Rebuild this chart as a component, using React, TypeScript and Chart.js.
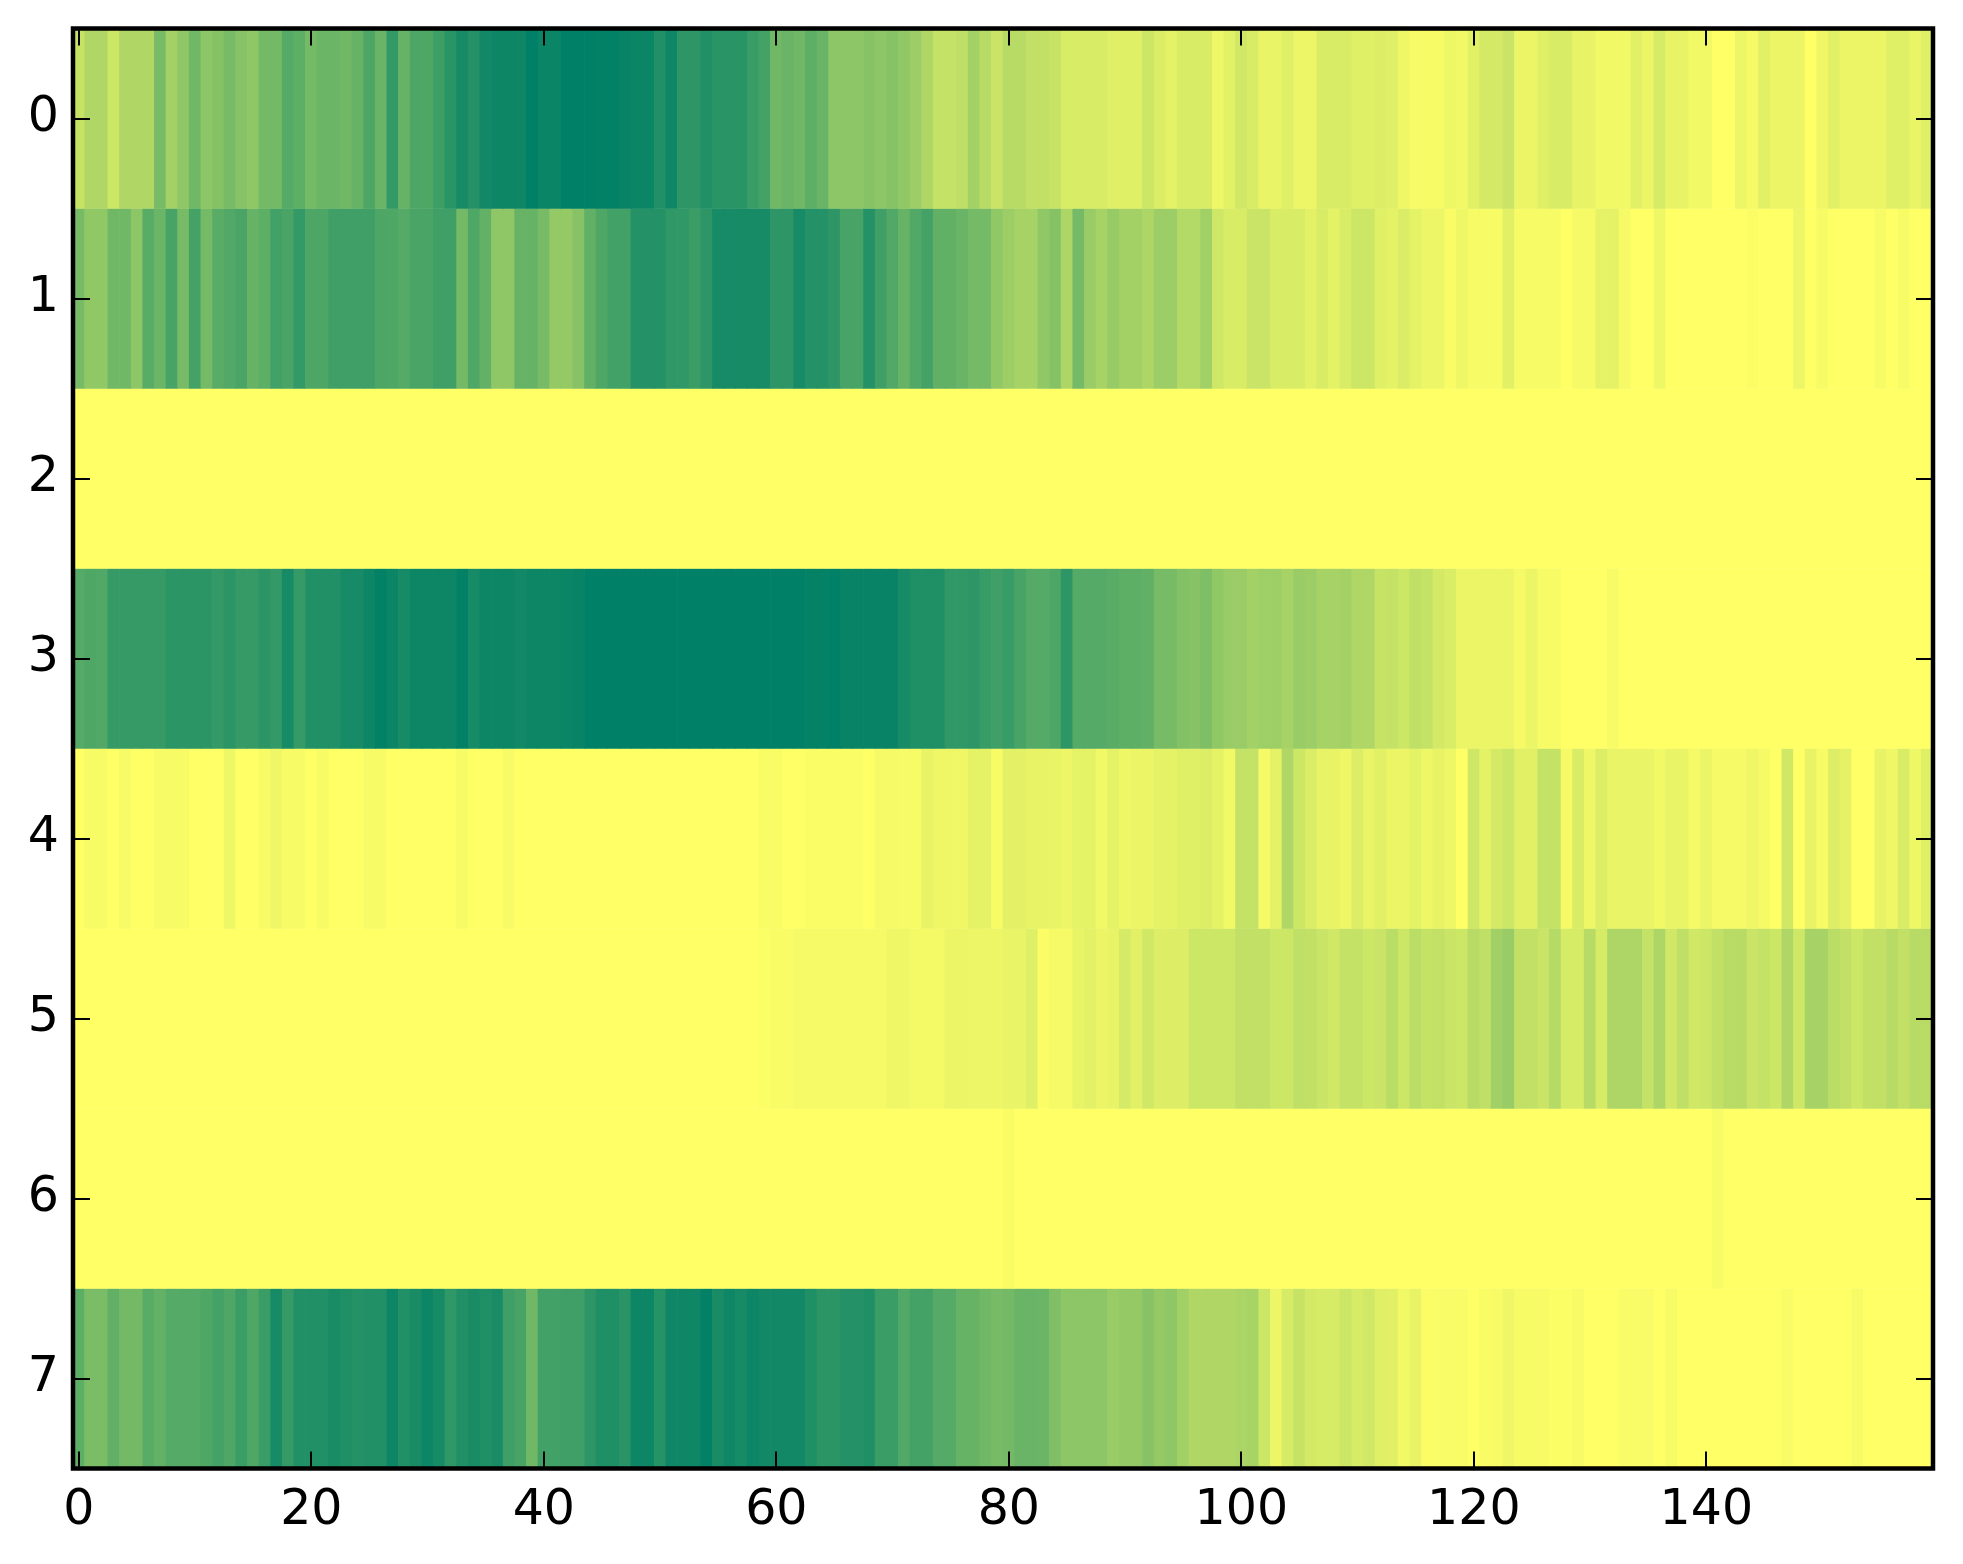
import React, { useEffect, useRef } from "react";
import { Chart, registerables } from "chart.js";

Chart.register(...registerables);

const xTickValues = [0, 20, 40, 60, 80, 100, 120, 140];
const yTickValues = [0, 1, 2, 3, 4, 5, 6, 7];

const row0 = [
  .22,.31,.31,.2,.31,.31,.31,.53,.36,.44,
  .56,.45,.48,.53,.47,.44,.55,.55,.67,.63,
  .54,.58,.58,.56,.6,.7,.59,.8,.6,.7,
  .69,.76,.84,.91,.86,.93,.95,.95,.94,1,
  .96,.96,1,1,1,.99,.99,.97,.96,.96,
  .87,.94,.82,.82,.87,.84,.84,.84,.78,.73,
  .56,.59,.56,.63,.59,.45,.45,.45,.47,.45,
  .47,.43,.39,.31,.23,.23,.25,.36,.28,.21,
  .28,.28,.24,.24,.22,.15,.15,.15,.15,.125,
  .125,.125,.2,.14,.105,.15,.15,.15,.065,.11,
  .18,.15,.085,.085,.125,.07,.07,.15,.15,.15,
  .125,.125,.135,.12,.06,.03,.035,.035,.065,.05,
  .115,.17,.17,.21,.08,.08,.12,.15,.15,.09,
  .09,.05,.05,.05,.115,.08,.16,.09,.09,.05,
  .05,0,0,.07,.04,.115,.08,.08,.08,0,
  .06,.115,.08,.08,.08,.08,.12,.12,.085,.125,
];
const row1 = [
  .53,.43,.43,.56,.56,.45,.65,.58,.72,.53,
  .73,.54,.65,.68,.71,.6,.63,.74,.71,.8,
  .7,.7,.75,.75,.75,.75,.7,.69,.67,.71,
  .71,.75,.75,.55,.69,.61,.44,.44,.6,.6,
  .53,.42,.42,.47,.62,.69,.74,.74,.86,.86,
  .86,.81,.81,.77,.82,.91,.91,.91,.91,.91,
  .82,.82,.91,.86,.86,.82,.72,.72,.86,.75,
  .68,.6,.68,.73,.62,.62,.59,.54,.54,.43,
  .39,.35,.35,.43,.48,.32,.54,.4,.35,.41,
  .36,.36,.32,.39,.39,.3,.3,.37,.19,.15,
  .15,.21,.21,.15,.15,.15,.11,.15,.105,.15,
  .2,.2,.12,.105,.14,.105,.07,.07,.02,.065,
  .03,.03,.03,.115,.035,.035,.035,.035,0,.04,
  .04,.1,.1,.04,0,0,.065,0,0,0,
  0,0,0,0,.012,0,0,0,.07,0,
  .035,0,0,0,0,.03,0,.03,0,0,
];
const row2 = [
  0,0,0,0,0,0,0,0,0,0, 0,0,0,0,0,0,0,0,0,0,
  0,0,0,0,0,0,0,0,0,0, 0,0,0,0,0,0,0,0,0,0,
  0,0,0,0,0,0,0,0,0,0, 0,0,0,0,0,0,0,0,0,0,
  0,0,0,0,0,0,0,0,0,0, 0,0,0,0,0,0,0,0,0,0,
  0,0,0,0,0,0,0,0,0,0, 0,0,0,0,0,0,0,0,0,0,
  0,0,0,0,0,0,0,0,0,0, 0,0,0,0,0,0,0,0,0,0,
  0,0,0,0,0,0,0,0,0,0, 0,0,0,0,0,0,0,0,0,0,
  0,0,0,0,0,0,0,0,0,0, 0,0,0,0,0,0,0,0,0,0,
];
const row3 = [
  .67,.69,.68,.79,.79,.79,.79,.79,.83,.83,
  .83,.83,.8,.83,.79,.79,.83,.8,.91,.79,
  .87,.87,.87,.91,.91,.95,.99,.96,.91,.95,
  .95,.95,.95,.99,.91,.95,.95,.95,.93,.95,
  .95,.95,.96,.97,1,1,1,1,1,1,
  1,1,1,1,1,1,1,1,1,1,
  1,1,1,.98,.98,1,.97,.97,.97,.97,
  .97,.91,.88,.88,.88,.81,.81,.82,.78,.75,
  .78,.72,.67,.67,.7,.82,.67,.67,.67,.65,
  .63,.63,.62,.53,.53,.49,.47,.51,.43,.4,
  .4,.36,.38,.38,.35,.4,.39,.35,.35,.36,
  .31,.31,.22,.23,.2,.25,.23,.17,.145,.08,
  .08,.08,.08,.08,.04,.08,.035,.035,0,0,
  0,0,.03,0,0,0,0,0,0,0,
  0,0,0,0,0,0,0,0,0,0,
  0,0,0,0,0,0,0,0,0,0,
];
const row4 = [
  0,.03,.03,0,.035,0,0,.03,.03,.03,
  0,0,0,.065,0,0,.03,.06,.03,.03,
  0,.03,0,0,0,.03,.03,0,0,0,
  0,0,0,.03,0,0,0,.03,0,0,
  0,0,0,0,0,0,0,0,0,0,
  0,0,0,0,0,0,0,0,0,.02,
  .02,0,0,.015,.015,.015,.015,.015,0,.04,
  .04,.035,.035,.09,.06,.06,.06,.1,.1,.03,
  .11,.11,.09,.09,.085,.07,.105,.105,.05,.105,
  .065,.08,.08,.105,.105,.12,.125,.135,.105,.05,
  .23,.23,.04,.105,.31,.2,.14,.09,.09,.06,
  .135,.085,.115,.08,.08,.105,.065,.09,.065,0,
  .19,.105,.17,.2,.115,.115,.23,.23,.04,.15,
  .065,.135,.085,.085,.085,.085,.05,.085,.085,.04,
  .08,.04,.04,.04,.06,.04,0,.18,0,.09,
  .035,.135,.1,0,0,.09,.06,.15,.065,.125,
];
const row5 = [
  0,0,0,0,0,0,0,0,0,0, 0,0,0,0,0,0,0,0,0,0,
  0,0,0,0,0,0,0,0,0,0, 0,0,0,0,0,0,0,0,0,0,
  0,0,0,0,0,0,0,0,0,0,
  0,0,0,0,0,0,0,0,0,.01,
  .02,.025,.04,.04,.04,.04,.04,.04,.04,.04,
  .06,.06,.045,.045,.045,.08,.08,.07,.07,.07,
  .085,.085,.125,.012,.04,.04,.09,.11,.08,.09,
  .165,.115,.18,.135,.135,.135,.2,.2,.2,.2,
  .24,.24,.24,.2,.2,.25,.24,.21,.18,.23,
  .23,.2,.21,.27,.2,.27,.23,.24,.21,.2,
  .28,.25,.37,.4,.24,.24,.21,.29,.16,.16,
  .28,.16,.32,.32,.32,.23,.32,.18,.25,.18,
  .2,.24,.28,.28,.21,.23,.2,.31,.19,.35,
  .35,.27,.24,.2,.24,.24,.28,.24,.28,.28,
];
const row6 = [
  0,0,0,0,0,0,0,0,0,0, 0,0,0,0,0,0,0,0,0,0,
  0,0,0,0,0,0,0,0,0,0, 0,0,0,0,0,0,0,0,0,0,
  0,0,0,0,0,0,0,0,0,0, 0,0,0,0,0,0,0,0,0,0,
  0,0,0,0,0,0,0,0,0,0, 0,0,0,0,0,0,0,0,0,0,
  .02,0,0,0,0,0,0,0,0,0, 0,0,0,0,0,0,0,0,0,0,
  0,0,0,0,0,0,0,0,0,0, 0,0,0,0,0,0,0,0,0,0,
  0,0,0,0,0,0,0,0,0,0, 0,0,0,0,0,0,0,0,0,0,
  0,.03,0,0,0,0,0,0,0,0, 0,0,0,0,0,0,0,0,0,0,
];
const row7 = [
  .63,.52,.52,.62,.55,.55,.65,.61,.67,.67,
  .67,.69,.73,.69,.77,.69,.77,.91,.79,.87,
  .87,.87,.9,.88,.86,.87,.87,.95,.87,.9,
  .95,.91,.81,.87,.9,.88,.9,.75,.72,.56,
  .74,.74,.75,.75,.82,.88,.88,.84,.95,.95,
  .85,.94,.94,.94,.99,.9,.94,.91,.95,.93,
  .93,.93,.93,.88,.83,.83,.86,.86,.88,.77,
  .77,.68,.73,.73,.67,.67,.6,.6,.56,.53,
  .55,.59,.59,.58,.5,.45,.45,.45,.45,.4,
  .42,.42,.47,.42,.44,.37,.31,.31,.31,.31,
  .33,.34,.2,.07,.16,.22,.17,.16,.16,.2,
  .16,.18,.12,.115,.05,.09,.012,.025,.025,.025,
  0,.02,.03,.06,.03,.03,.03,.01,.01,.035,
  0,0,0,.025,.025,.025,0,.035,0,0,
  0,0,0,0,0,0,0,.025,0,0,
  0,0,0,.03,0,0,0,0,0,0,
];

const rows = [row0, row1, row2, row3, row4, row5, row6, row7];

// matplotlib "summer_r"
const summerR = (v: number) =>
  `rgb(${Math.round(255 * (1 - v))},${Math.round(255 * (1 - v / 2))},102)`;

const frame = {
  id: "frame",
  afterDatasetsDraw(chart: any) {
    const { ctx, chartArea: a, scales } = chart;
    ctx.save();
    ctx.strokeStyle = "#000";
    ctx.lineWidth = 2;
    ctx.beginPath();
    const len = 17;
    for (const t of xTickValues) {
      const x = Math.round(scales.x.getPixelForValue(t));
      ctx.moveTo(x, a.top);
      ctx.lineTo(x, a.top + len);
      ctx.moveTo(x, a.bottom);
      ctx.lineTo(x, a.bottom - len);
    }
    for (const t of yTickValues) {
      const y = Math.round(scales.y.getPixelForValue(t));
      ctx.moveTo(a.left, y);
      ctx.lineTo(a.left + len, y);
      ctx.moveTo(a.right, y);
      ctx.lineTo(a.right - len, y);
    }
    ctx.stroke();
    ctx.lineWidth = 4.5;
    ctx.strokeRect(a.left, a.top, a.right - a.left, a.bottom - a.top);
    ctx.restore();
  },
};

const tickFont = { family: "'DejaVu Sans'", size: 49 };

export default function App() {
  const ref = useRef<HTMLCanvasElement>(null);
  useEffect(() => {
    document.body.style.margin = "0";
    const chart = new Chart(ref.current!, {
      type: "bar",
      data: {
        datasets: rows.map((row, r) => ({
          label: String(r),
          data: row.map((_, c) => ({ x: c, y: [r - 0.5, r + 0.5] })),
          backgroundColor: row.map(summerR),
          borderWidth: 0,
          barPercentage: 1,
          categoryPercentage: 1,
          grouped: false,
        })),
      } as any,
      plugins: [frame],
      options: {
        responsive: false,
        animation: false,
        devicePixelRatio: 1,
        layout: { padding: { top: 28.5, right: 30, left: 0, bottom: 0 } },
        plugins: { legend: { display: false }, tooltip: { enabled: false } },
        scales: {
          x: {
            type: "linear",
            offset: false,
            min: -0.5,
            max: 159.5,
            grid: { display: false, drawTicks: false },
            border: { display: false },
            afterBuildTicks: (s: any) => {
              s.ticks = xTickValues.map((value) => ({ value }));
            },
            afterFit: (s: any) => {
              s.height = 95.5;
              s.paddingLeft = 0;
              s.paddingRight = 0;
            },
            ticks: {
              color: "#000",
              font: tickFont,
              padding: 13,
              maxRotation: 0,
              autoSkip: false,
            },
          },
          y: {
            type: "linear",
            reverse: true,
            min: -0.5,
            max: 7.5,
            grid: { display: false, drawTicks: false },
            border: { display: false },
            afterBuildTicks: (s: any) => {
              s.ticks = yTickValues.map((value) => ({ value }));
            },
            afterFit: (s: any) => {
              s.width = 73;
              s.paddingTop = 0;
              s.paddingBottom = 0;
            },
            ticks: {
              color: "#000",
              font: tickFont,
              padding: 14,
              autoSkip: false,
            },
          },
        },
      } as any,
    });
    return () => chart.destroy();
  }, []);
  return <canvas ref={ref} width={1963} height={1564} style={{ display: "block" }} />;
}
